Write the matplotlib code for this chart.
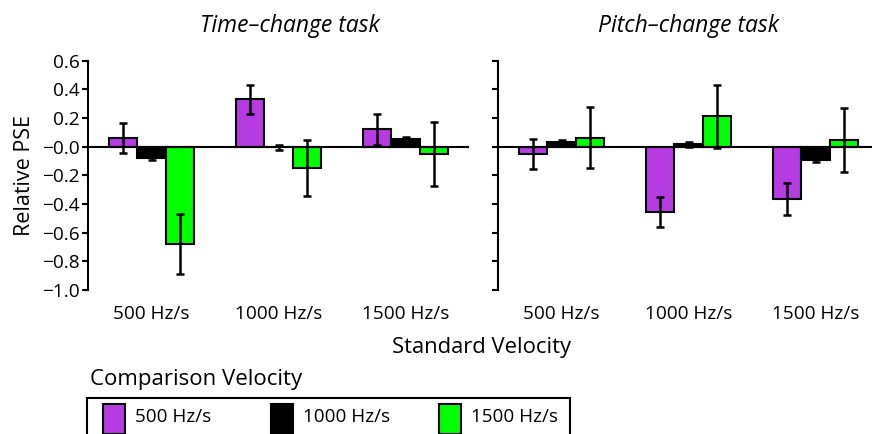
import matplotlib
matplotlib.use('Agg')
import matplotlib.pyplot as plt
import numpy as np
from matplotlib.patches import Rectangle
from matplotlib.ticker import FuncFormatter

plt.rcParams['font.family'] = ['Open Sans', 'DejaVu Sans']

# data
standards = ['500 Hz/s', '1000 Hz/s', '1500 Hz/s']
comparisons = ['500 Hz/s', '1000 Hz/s', '1500 Hz/s']
colors = ['#B43CE0', '#000000', '#00FF00']

timeVals = [[0.06, 0.33, 0.12],      # comparison 500
            [-0.08, -0.005, 0.055],  # comparison 1000
            [-0.68, -0.15, -0.05]]   # comparison 1500
timeErr = [[0.105, 0.10, 0.11],
           [0.012, 0.018, 0.015],
           [0.21, 0.195, 0.225]]

pitchVals = [[-0.05, -0.455, -0.365],
             [0.03, 0.016, -0.095],
             [0.063, 0.213, 0.046]]
pitchErr = [[0.105, 0.106, 0.11],
            [0.015, 0.015, 0.015],
            [0.215, 0.22, 0.225]]

titles = ['Time\u2013change task', 'Pitch\u2013change task']

W, H = 872, 434
fig = plt.figure(figsize=(W / 100, H / 100), dpi=100)

def px(x0, y0, x1, y1):
    return [x0 / W, 1 - y1 / H, (x1 - x0) / W, (y1 - y0) / H]

axL = fig.add_axes(px(88, 60.7, 469, 290))
axR = fig.add_axes(px(498, 60.7, 879, 290))

barW = 0.225
lw = 1.5
x = np.arange(len(standards))

def fmt(v, pos):
    return f'{v:.1f}'.replace('-', '\u2212')

for ax, vals, errs, title, tx in [(axL, timeVals, timeErr, titles[0], 0.53),
                                  (axR, pitchVals, pitchErr, titles[1], 0.5)]:
    for i in range(3):
        ax.bar(x + (i - 1) * barW, vals[i], barW, color=colors[i],
               edgecolor='black', linewidth=lw, zorder=2)
        ax.errorbar(x + (i - 1) * barW, vals[i], yerr=errs[i], fmt='none',
                    ecolor='black', elinewidth=1.8, capsize=2.8, capthick=1.8, zorder=3)
    ax.axhline(0, color='black', linewidth=lw, zorder=4)
    ax.set_xlim(-0.5, 2.5)
    ax.set_ylim(-1.0, 0.6)
    ax.set_yticks(np.arange(-1.0, 0.61, 0.2))
    ax.yaxis.set_major_formatter(FuncFormatter(fmt))
    ax.set_xticks(x)
    ax.set_xticklabels(standards, fontsize=13.7)
    ax.tick_params(axis='x', length=0, pad=11)
    ax.tick_params(axis='y', direction='out', length=4, width=lw, labelsize=13.7, pad=2)
    for s in ['top', 'right', 'bottom']:
        ax.spines[s].set_visible(False)
    ax.spines['left'].set_linewidth(lw)
    ax.set_title(title, fontsize=16.5, style='italic', pad=21, x=tx)
    ax.patch.set_alpha(0)

axR.tick_params(axis='y', labelleft=False)
axL.set_ylabel('Relative PSE', fontsize=15.5, labelpad=5)

fig.text(481 / W, 1 - 347 / H, 'Standard Velocity', fontsize=15.8, ha='center', va='center')
fig.text(90 / W, 1 - 380 / H, 'Comparison Velocity', fontsize=16, ha='left', va='center')

# legend box, cut off at the bottom like the original
fig.patches.append(Rectangle((87 / W, 1 - 460 / H), (570 - 87) / W, 62 / H,
                             transform=fig.transFigure, fill=False,
                             edgecolor='black', linewidth=lw))
patchX = [103, 271, 439]
for i, name in enumerate(comparisons):
    fig.patches.append(Rectangle((patchX[i] / W, 1 - 434 / H), 22 / W, 30 / H,
                                 transform=fig.transFigure, facecolor=colors[i],
                                 edgecolor='black', linewidth=lw))
    fig.text((patchX[i] + 32) / W, 1 - 417 / H, name, fontsize=13.6, ha='left', va='center')

fig.savefig('out.png', dpi=100)
